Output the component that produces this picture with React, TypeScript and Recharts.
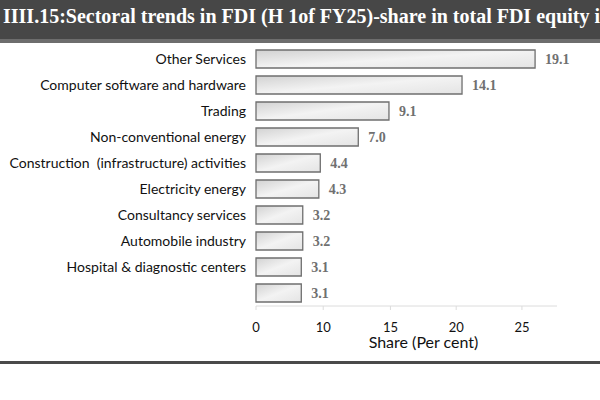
import React from 'react';
import { BarChart, Bar, XAxis, YAxis, LabelList } from 'recharts';

const sectors = [
  'Other Services',
  'Computer software and hardware',
  'Trading',
  'Non-conventional energy',
  'Construction  (infrastructure) activities',
  'Electricity energy',
  'Consultancy services',
  'Automobile industry',
  'Hospital & diagnostic centers',
  '',
];
const shares = [19.1, 14.1, 9.1, 7.0, 4.4, 4.3, 3.2, 3.2, 3.1, 3.1];

// tick positions on the bar scale and the labels the source prints at them
const tickPos = [0, 4.6, 9.2, 13.7, 18.2];
const tickLabels = ['0', '10', '15', '20', '25'];

const data = sectors.map((name, i) => ({ name, share: shares[i] }));

const TITLE = 'IIII.15:Sectoral trends in FDI (H 1of FY25)-share in total FDI equity in';

const SectorTick = (props: any) => {
  const { x, y, payload } = props;
  return (
    <text
      x={x}
      y={y}
      dy="0.35em"
      textAnchor="end"
      fontFamily="Lato, sans-serif"
      fontSize={14}
      fill="#111"
      style={{ whiteSpace: 'pre' }}
    >
      {payload.value}
    </text>
  );
};

export default function App() {
  return (
    <div
      style={{
        position: 'absolute',
        left: 0,
        top: 0,
        width: 600,
        height: 400,
        background: '#fff',
        overflow: 'hidden',
      }}
    >
      <div
        style={{
          position: 'absolute',
          left: 0,
          top: 0,
          width: 600,
          height: 39,
          background: '#474747',
          borderBottom: '4px solid #6d6d6d',
          overflow: 'hidden',
          whiteSpace: 'nowrap',
        }}
      >
        <span
          style={{
            position: 'absolute',
            left: 3,
            top: 5,
            color: '#fff',
            fontFamily: '"Liberation Serif", serif',
            fontWeight: 'bold',
            fontSize: 20,
            lineHeight: '22px',
          }}
        >
          {TITLE}
        </span>
      </div>

      <div style={{ position: 'absolute', left: 0, top: 0 }}>
        <BarChart
          width={600}
          height={400}
          data={data}
          layout="vertical"
          barCategoryGap={4}
          margin={{ top: 46, right: 43, left: 0, bottom: 47 }}
        >
          <defs>
            <linearGradient id="barFill" x1="0" y1="0" x2="1" y2="1">
              <stop offset="0%" stopColor="#d2d2d2" />
              <stop offset="50%" stopColor="#f3f3f3" />
              <stop offset="100%" stopColor="#e4e4e4" />
            </linearGradient>
          </defs>
          <XAxis
            type="number"
            domain={[0, 20.6]}
            ticks={tickPos}
            tickFormatter={(v: number, i: number) => tickLabels[i]}
            interval={0}
            axisLine={{ stroke: '#dcdcdc' }}
            tickLine={{ stroke: '#dcdcdc' }}
            tickSize={4}
            tickMargin={13}
            height={47}
            tick={{ fontFamily: 'Lato, sans-serif', fontSize: 13, fill: '#111' }}
            label={{
              value: 'Share (Per cent)',
              position: 'insideBottom',
              offset: 5,
              dx: 17,
              fontFamily: 'Lato, sans-serif',
              fontSize: 16,
              fill: '#111',
            }}
          />
          <YAxis
            type="category"
            dataKey="name"
            width={256}
            axisLine={false}
            tickLine={false}
            tickSize={0}
            tickMargin={10}
            interval={0}
            tick={<SectorTick />}
          />
          <Bar
            dataKey="share"
            fill="url(#barFill)"
            stroke="#6f6f6f"
            strokeWidth={1.3}
            isAnimationActive={false}
          >
            <LabelList
              dataKey="share"
              position="right"
              offset={10}
              formatter={(v: number) => v.toFixed(1)}
              style={{
                fontFamily: '"Liberation Serif", serif',
                fontWeight: 'bold',
                fontSize: 14,
                fill: '#707070',
              }}
            />
          </Bar>
        </BarChart>
      </div>

      <div
        style={{
          position: 'absolute',
          left: 0,
          top: 361,
          width: 600,
          height: 3,
          background: '#4a4a4a',
        }}
      />
    </div>
  );
}
